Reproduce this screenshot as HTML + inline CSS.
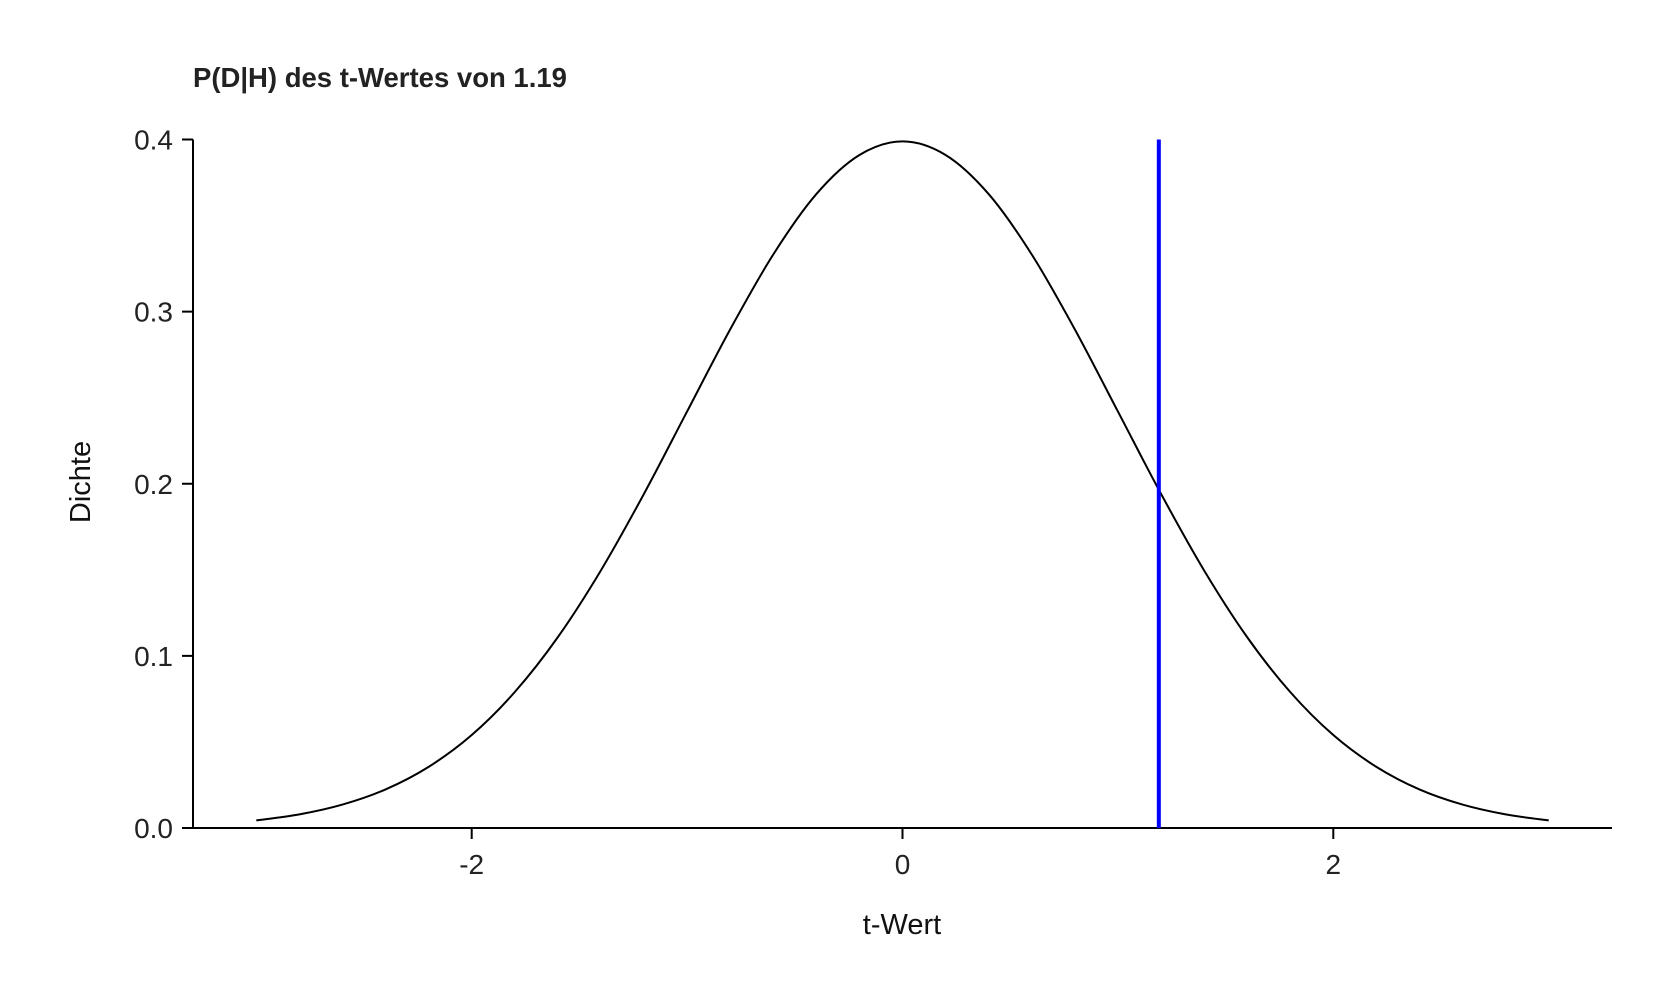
<!DOCTYPE html>
<html><head><meta charset="utf-8"><style>
html,body{margin:0;padding:0;background:#fff;}
svg{display:block;font-family:"Liberation Sans",Arial,sans-serif;}
</style></head><body>
<svg id="chart" width="1680" height="1008" viewBox="0 0 1680 1008">
<text x="193" y="87" font-size="27.5" font-weight="bold" fill="#222">P(D|H) des t-Wertes von 1.19</text>
<g id="axes"></g>
<path id="curve" fill="none" stroke="#000" stroke-width="2"></path>
<line id="vline" stroke="#0000ff" stroke-width="4"></line>
<text x="902" y="934" font-size="29" text-anchor="middle" fill="#111">t-Wert</text>
<text x="0" y="0" font-size="29" text-anchor="middle" fill="#111" transform="translate(90,482) rotate(-90)">Dichte</text>
</svg>
<script>
const xValues = [-3,-2.8,-2.6,-2.4,-2.2,-2,-1.8,-1.6,-1.4,-1.2,-1,-0.8,-0.6,-0.4,-0.2,0,0.2,0.4,0.6,0.8,1,1.2,1.4,1.6,1.8,2,2.2,2.4,2.6,2.8,3];
const densityValues = [0.0044,0.0079,0.0136,0.0224,0.0355,0.0540,0.0790,0.1109,0.1497,0.1942,0.2420,0.2897,0.3332,0.3683,0.3910,0.3989,0.3910,0.3683,0.3332,0.2897,0.2420,0.1942,0.1497,0.1109,0.0790,0.0540,0.0355,0.0224,0.0136,0.0079,0.0044];
const xTicks = [-2,0,2];
const yTicks = [0.0,0.1,0.2,0.3,0.4];
const yTickLabels = ["0.0","0.1","0.2","0.3","0.4"];
const observedT = 1.19;

const NS = "http://www.w3.org/2000/svg";
function sx(v){ return 902.5 + v*215.4; }
function sy(v){ return 828 - v*(828-139.5)/0.4; }

const axes = document.getElementById('axes');
function mk(tag, attrs){ const e=document.createElementNS(NS,tag); for(const k in attrs) e.setAttribute(k,attrs[k]); axes.appendChild(e); return e; }

const yAxis = mk('line',{x1:193,y1:sy(0.4),x2:193,y2:828,stroke:'#000','stroke-width':2});


const xAxis = mk('line',{x1:193,y1:828,x2:1612,y2:828,stroke:'#000','stroke-width':2});



yTicks.forEach((t,i)=>{
  const tk = mk('line',{x1:182,y1:sy(t),x2:193,y2:sy(t),stroke:'#000','stroke-width':2});
  
  
  const lb = mk('text',{x:173,y:sy(t)+10,'font-size':28,'text-anchor':'end',fill:'#222'});
  lb.textContent = yTickLabels[i];
  
  
});
xTicks.forEach(t=>{
  const tk = mk('line',{x1:sx(t),y1:828,x2:sx(t),y2:839,stroke:'#000','stroke-width':2});
  
  
  const lb = mk('text',{x:sx(t),y:874,'font-size':28,'text-anchor':'middle',fill:'#222'});
  lb.textContent = String(t);
  
  
});

const pts = xValues.map((x,i)=>[sx(x),sy(densityValues[i])]);
let d = 'M'+pts[0][0]+','+pts[0][1];
for(let i=0;i<pts.length-1;i++){
  const p0=pts[Math.max(0,i-1)],p1=pts[i],p2=pts[i+1],p3=pts[Math.min(pts.length-1,i+2)];
  const c1=[p1[0]+(p2[0]-p0[0])/6,p1[1]+(p2[1]-p0[1])/6];
  const c2=[p2[0]-(p3[0]-p1[0])/6,p2[1]-(p3[1]-p1[1])/6];
  d+=' C'+c1[0]+','+c1[1]+' '+c2[0]+','+c2[1]+' '+p2[0]+','+p2[1];
}
document.getElementById('curve').setAttribute('d',d);

const vl = document.getElementById('vline');
vl.setAttribute('x1',sx(observedT)); vl.setAttribute('x2',sx(observedT));
vl.setAttribute('y1',sy(0.4)); vl.setAttribute('y2',828);
</script>
</body></html>
